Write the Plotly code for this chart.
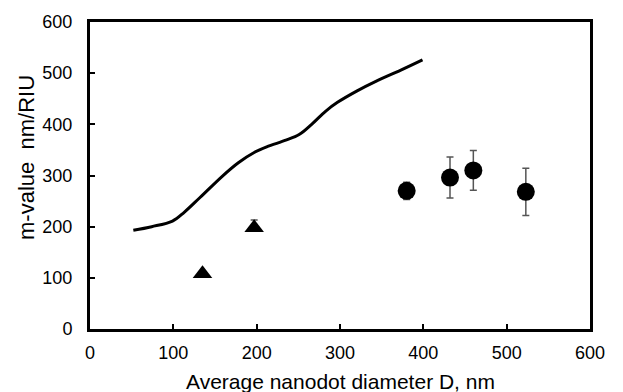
import plotly.graph_objects as go

# Theoretical curve
curve_x = [52, 74, 99, 113, 132, 159, 178, 197, 212, 235, 251, 266, 283, 297, 320, 343, 373, 399]
curve_y = [193, 200, 211, 228, 257, 299, 325, 345, 356, 369, 380, 400, 426, 443, 465, 484, 506, 526]

# Triangles
tri_x = [135, 197]
tri_y = [108, 198]
tri_err_plus = [3, 15]
tri_err_minus = [3, 6]

# Circles
circ_x = [380, 432, 460, 523]
circ_y = [270, 296, 310, 268]
circ_err = [17, 40, 39, 46]

x_ticks = [0, 100, 200, 300, 400, 500, 600]
y_ticks = [0, 100, 200, 300, 400, 500, 600]

x_title = "Average nanodot diameter D, nm"
y_title = "m-value  nm/RIU"

font_family = "Liberation Sans, Arial, sans-serif"

fig = go.Figure()
fig.add_trace(go.Scatter(
    x=curve_x, y=curve_y, mode="lines",
    line=dict(color="black", width=3, shape="spline", smoothing=1.0),
    showlegend=False, hoverinfo="skip"))
fig.add_trace(go.Scatter(
    x=tri_x, y=tri_y, mode="markers",
    marker=dict(symbol="triangle-up", size=17, color="black"),
    error_y=dict(type="data", array=tri_err_plus, arrayminus=tri_err_minus,
                 color="#555555", thickness=1.5, width=3.5),
    showlegend=False))
fig.add_trace(go.Scatter(
    x=circ_x, y=circ_y, mode="markers",
    marker=dict(symbol="circle", size=18, color="black"),
    error_y=dict(type="data", array=circ_err, color="#555555", thickness=1.5, width=3.5),
    showlegend=False))

axis_common = dict(
    showline=True, linecolor="black", linewidth=3, mirror=True,
    ticks="inside", ticklen=5, tickwidth=2, tickcolor="black",
    showgrid=False, zeroline=False, automargin=False,
    tickfont=dict(family=font_family, size=18, color="black"),
)

# page body has an 8px default margin, so the figure is sized 8px smaller
fig.update_layout(
    width=615, height=384,
    margin=dict(l=82, r=33, t=14, b=63),
    paper_bgcolor="white", plot_bgcolor="white",
    font=dict(family=font_family, color="black"),
    xaxis=dict(range=[0, 600], tickvals=x_ticks, ticktext=[str(v) for v in x_ticks],
               ticklabelstandoff=5, **axis_common),
    yaxis=dict(range=[0, 600], tickvals=y_ticks, ticktext=[str(v) for v in y_ticks],
               ticklabelstandoff=11, **axis_common),
    annotations=[
        dict(text=x_title, xref="paper", yref="paper", x=0.5, y=-0.1726,
             xanchor="center", yanchor="middle", showarrow=False,
             font=dict(family=font_family, size=21, color="black")),
        dict(text=y_title, xref="paper", yref="paper", x=-0.128, y=0.557,
             xanchor="center", yanchor="middle", textangle=-90, showarrow=False,
             font=dict(family=font_family, size=22, color="black")),
    ],
)

fig.write_html("out.html")
